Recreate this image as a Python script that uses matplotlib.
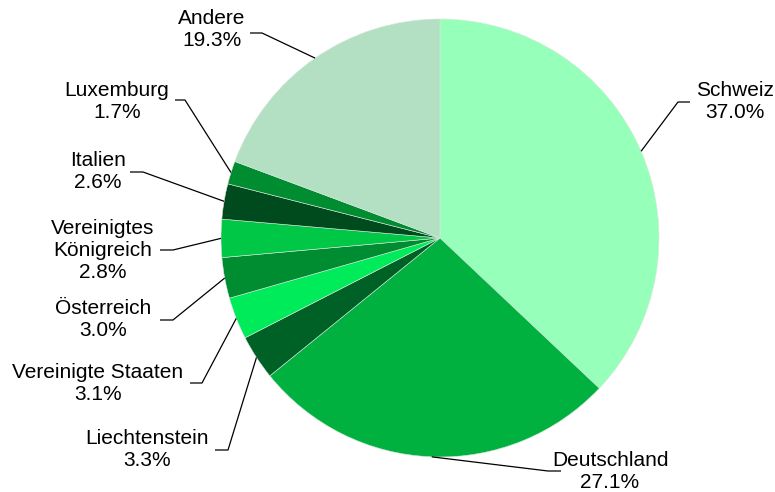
import matplotlib.pyplot as plt
import numpy as np

plt.rcParams['font.family'] = ['Liberation Sans', 'DejaVu Sans']

# data (clockwise from 12 o'clock)
labels = ['Schweiz', 'Deutschland', 'Liechtenstein', 'Vereinigte Staaten',
          'Österreich', 'Vereinigtes\nKönigreich', 'Italien', 'Luxemburg', 'Andere']
values = [37.0, 27.1, 3.3, 3.1, 3.0, 2.8, 2.6, 1.7, 19.3]
colors = ['#96FFB9', '#00B140', '#006127', '#00EB5A', '#008C30',
          '#00C846', '#004B1E', '#008C30', '#B3DFC3']

# layout in pixel coords (y down): elbow x, line end x, line y, text x
elbow_x = [678, 548, 228, 202, 173, 173, 143, 185, 262]
end_x = [690, 561, 215, 190, 160, 160, 130, 175, 250]
line_y = [102, 471, 450, 383, 320, 250, 172, 100, 33]
text_x = [735, 610, 147, 98, 103, 103, 98, 117, 212]
text_y = [102, 472, 450, 384, 320, 250, 172, 102, 30]

W, H = 775, 492
cx, cy, r = 440, 238, 219

fig = plt.figure(figsize=(7.75, 4.92), dpi=100)
ax = fig.add_axes([0, 0, 1, 1])

wedges, _ = ax.pie(values, colors=colors, startangle=90, counterclock=False,
                   center=(cx, H - cy), radius=r, frame=True,
                   wedgeprops=dict(linewidth=0.4, edgecolor='#d8e8dc'))
ax.set_xlim(0, W)
ax.set_ylim(0, H)
ax.set_aspect('equal')
ax.axis('off')

total = sum(values)
start = 0.0
for i, v in enumerate(values):
    mid = (start + v / 2) / total * 2 * np.pi
    start += v
    ax_x = cx + r * np.sin(mid)
    ax_y = H - (cy - r * np.cos(mid))
    ax.plot([ax_x, elbow_x[i], end_x[i]],
            [ax_y, H - line_y[i], H - line_y[i]],
            color='black', linewidth=0.9, solid_capstyle='butt')
    ax.text(text_x[i], H - text_y[i], f'{labels[i]}\n{v:.1f}%',
            ha='center', va='center', fontsize=15, linespacing=1.2,
            color='black')

fig.savefig('out.png', dpi=100)
